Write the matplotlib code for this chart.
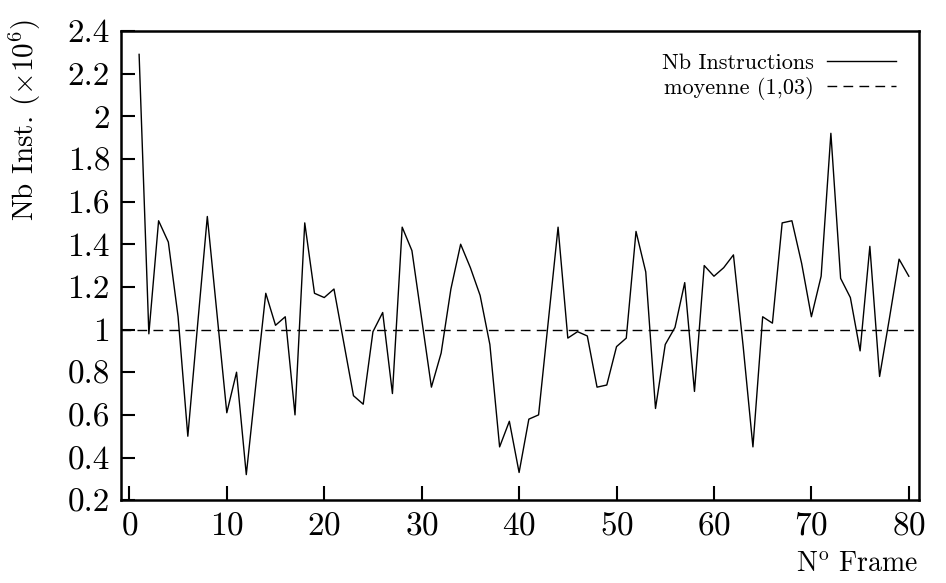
"""Nb instructions per frame, gnuplot-style line chart."""

import matplotlib
matplotlib.use("Agg")
import matplotlib.pyplot as plt
import numpy as np

plt.rcParams.update({
    "font.family": "cmr10",
    "mathtext.fontset": "cm",
    "axes.formatter.use_mathtext": True,
    "font.size": 21,
})

# ── data ────────────────────────────────────────────────────────────────
frames = np.arange(1, 81)
nb_inst = [
    2.29, 0.98, 1.51, 1.41, 1.06, 0.50, 1.02, 1.53, 1.07, 0.61,
    0.80, 0.32, 0.75, 1.17, 1.02, 1.06, 0.60, 1.50, 1.17, 1.15,
    1.19, 0.94, 0.69, 0.65, 0.99, 1.08, 0.70, 1.48, 1.37, 1.05,
    0.73, 0.89, 1.19, 1.40, 1.29, 1.16, 0.93, 0.45, 0.57, 0.33,
    0.58, 0.60, 1.04, 1.48, 0.96, 0.99, 0.97, 0.73, 0.74, 0.92,
    0.96, 1.46, 1.27, 0.63, 0.93, 1.01, 1.22, 0.71, 1.30, 1.25,
    1.29, 1.35, 0.92, 0.45, 1.06, 1.03, 1.50, 1.51, 1.31, 1.06,
    1.25, 1.92, 1.24, 1.15, 0.90, 1.39, 0.78, 1.05, 1.33, 1.25,
]
mean_val = 1.0
xticks = [0, 10, 20, 30, 40, 50, 60, 70, 80]
yticks = [0.2, 0.4, 0.6, 0.8, 1.0, 1.2, 1.4, 1.6, 1.8, 2.0, 2.2, 2.4]
ytick_labels = ["0.2", "0.4", "0.6", "0.8", "1", "1.2", "1.4", "1.6", "1.8", "2", "2.2", "2.4"]

fig = plt.figure(figsize=(9.46, 5.83), dpi=100)
ax = fig.add_axes([0.128, 0.142, 0.843, 0.805])

ax.plot(frames, nb_inst, color="black", lw=1.0, label="Nb Instructions")
ax.axhline(mean_val, color="black", lw=1.0, dashes=(7, 4.5), label="moyenne (1,03)")

ax.set_xlim(-0.85, 81)
ax.set_ylim(0.2, 2.4)
ax.set_xticks(xticks)
ax.set_yticks(yticks)
ax.set_yticklabels(ytick_labels)
ax.tick_params(direction="in", length=10, width=1.5, top=False, right=False,
               labelsize=24)
ax.tick_params(axis="y", pad=8)
ax.tick_params(axis="x", pad=8)
for s in ax.spines.values():
    s.set_linewidth(1.8)

ax.set_xlabel(r"N$^{\rm o}$ Frame", loc="right", labelpad=8, fontsize=20)
ax.set_ylabel(r"Nb Inst. ($\times 10^6$)", loc="top", fontsize=21)
ax.yaxis.set_label_coords(-0.098, 1.025)

ax.legend(loc="upper right", frameon=False, fontsize=16, markerfirst=False,
          handlelength=3.1, handletextpad=0.6, labelspacing=0.2,
          borderaxespad=0.6)

fig.savefig("out.png", dpi=100)
plt.close(fig)
